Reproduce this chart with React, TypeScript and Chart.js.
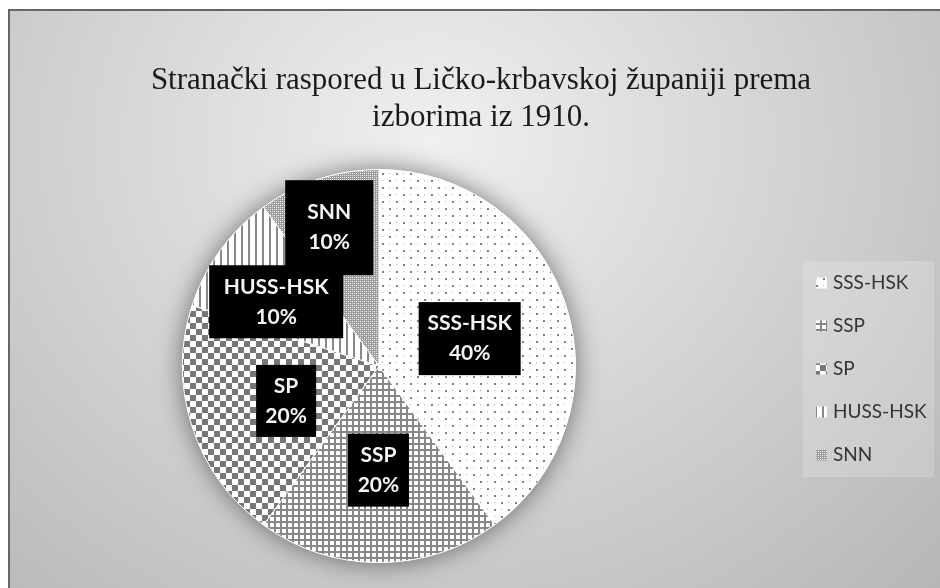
import React, { useEffect, useRef } from "react";
import { Chart, registerables } from "chart.js";

Chart.register(...registerables);

// ---- data ----
const titleLines = ["Stranački raspored u Ličko-krbavskoj županiji prema", "izborima iz 1910."];
const categories = ["SSS-HSK", "SSP", "SP", "HUSS-HSK", "SNN"];
const shares = [40, 20, 20, 10, 10];

// ---- style (label placement as fraction of radius + angle nudge, box sizes) ----
const labelRadius = [0.482, 0.53, 0.505, 0.617, 0.748];
const labelAngleNudge = [1.2, 0.3, -2.6, -4, -1.8];
const labelBoxW = [102, 61, 60, 134, 88];
const labelBoxH = [73, 73, 72, 73, 95];
const patternKinds = ["dots", "grid", "checker", "vlines", "dither"];

function makePattern(kind: string): CanvasPattern | string {
  const c = document.createElement("canvas");
  let size = 8;
  if (kind === "dots") size = 14;
  if (kind === "grid") size = 6;
  if (kind === "checker") size = 12;
  if (kind === "vlines") size = 7;
  if (kind === "dither") size = 4;
  c.width = size;
  c.height = size;
  const ctx = c.getContext("2d")!;
  ctx.fillStyle = "#ffffff";
  ctx.fillRect(0, 0, size, size);
  if (kind === "dots") {
    ctx.fillStyle = "#808080";
    ctx.fillRect(1, 1, 2, 2);
    ctx.fillRect(8, 8, 2, 2);
    ctx.fillStyle = "#b0b0b0";
    ctx.fillRect(8, 1, 1, 1);
    ctx.fillRect(1, 8, 1, 1);
  } else if (kind === "grid") {
    ctx.fillStyle = "#888888";
    ctx.fillRect(0, 0, size, 2);
    ctx.fillRect(0, 0, 2, size);
  } else if (kind === "checker") {
    ctx.fillStyle = "#777777";
    ctx.fillRect(0, 0, 6, 6);
    ctx.fillRect(6, 6, 6, 6);
  } else if (kind === "vlines") {
    ctx.fillStyle = "#888888";
    ctx.fillRect(0, 0, 2, size);
  } else if (kind === "dither") {
    ctx.fillStyle = "#9c9c9c";
    ctx.fillRect(0, 0, size, size);
    ctx.fillStyle = "#ffffff";
    ctx.fillRect(0, 0, 1, 1);
    ctx.fillRect(2, 2, 1, 1);
    ctx.fillStyle = "#d8d8d8";
    ctx.fillRect(2, 0, 1, 1);
    ctx.fillRect(0, 2, 1, 1);
  }
  const p = ctx.createPattern(c, "repeat");
  return p || "#cccccc";
}

const shadowPlugin = {
  id: "pieShadow",
  beforeDatasetsDraw(chart: any) {
    const arc = chart.getDatasetMeta(0).data[0];
    if (!arc) return;
    const { x, y, outerRadius } = arc.getProps(["x", "y", "outerRadius"], true);
    const ctx = chart.ctx;
    ctx.save();
    ctx.shadowColor = "rgba(0,0,0,0.5)";
    ctx.shadowBlur = 26;
    ctx.beginPath();
    ctx.arc(x, y, outerRadius, 0, Math.PI * 2);
    ctx.fillStyle = "#ffffff";
    ctx.fill();
    ctx.restore();
  },
};

const labelPlugin = {
  id: "boxLabels",
  afterDatasetsDraw(chart: any) {
    const ctx = chart.ctx;
    const data = chart.data.datasets[0].data as number[];
    const total = data.reduce((a, b) => a + b, 0);
    const spots = chart.getDatasetMeta(0).data.map((arc: any, i: number) => {
      const { x, y, startAngle, endAngle, outerRadius } = arc.getProps(
        ["x", "y", "startAngle", "endAngle", "outerRadius"],
        true
      );
      const mid = (startAngle + endAngle) / 2 + (labelAngleNudge[i] * Math.PI) / 180;
      return {
        cx: x + Math.cos(mid) * outerRadius * labelRadius[i],
        cy: y + Math.sin(mid) * outerRadius * labelRadius[i],
      };
    });
    ctx.save();
    ctx.fillStyle = "#000000";
    spots.forEach((s: any, i: number) => {
      ctx.fillRect(s.cx - labelBoxW[i] / 2, s.cy - labelBoxH[i] / 2, labelBoxW[i], labelBoxH[i]);
    });
    ctx.fillStyle = "#f4f4f4";
    ctx.font = "bold 21px Lato";
    ctx.textAlign = "center";
    ctx.textBaseline = "middle";
    spots.forEach((s: any, i: number) => {
      ctx.fillText(String(chart.data.labels[i]), s.cx, s.cy - 15);
      ctx.fillText(Math.round((data[i] / total) * 100) + "%", s.cx, s.cy + 15);
    });
    ctx.restore();
  },
};

const titlePlugin = {
  id: "serifTitle",
  afterDraw(chart: any) {
    const ctx = chart.ctx;
    ctx.save();
    ctx.fillStyle = "#1a1a1a";
    ctx.font = '31px "Liberation Serif"';
    ctx.textAlign = "center";
    ctx.textBaseline = "alphabetic";
    titleLines.forEach((line, i) => {
      ctx.fillText(line, chart.width / 2, 78 + i * 37);
    });
    ctx.restore();
  },
};

const legendPlugin = {
  id: "boxLegend",
  afterDraw(chart: any) {
    const ctx = chart.ctx;
    const ds = chart.data.datasets[0];
    ctx.save();
    ctx.fillStyle = "rgba(255,255,255,0.18)";
    ctx.fillRect(793, 250, 131, 216);
    chart.data.labels.forEach((lab: string, i: number) => {
      const y = 272 + i * 43;
      ctx.fillStyle = ds.backgroundColor[i];
      ctx.fillRect(806, y - 5.5, 11, 11);
      ctx.fillStyle = "#333333";
      ctx.font = "19px Lato";
      ctx.textAlign = "left";
      ctx.textBaseline = "middle";
      ctx.fillText(lab, 823, y);
    });
    ctx.restore();
  },
};

export default function App() {
  const ref = useRef<HTMLCanvasElement>(null);
  useEffect(() => {
    document.documentElement.style.overflow = "hidden";
    document.body.style.overflow = "hidden";
    const canvas = ref.current;
    if (!canvas) return;
    const patterns = patternKinds.map((k) => makePattern(k));
    const chart = new Chart(canvas, {
      type: "pie",
      data: {
        labels: categories,
        datasets: [
          {
            data: shares,
            backgroundColor: patterns as any,
            borderColor: "#ffffff",
            borderWidth: 1,
            hoverOffset: 0,
          },
        ],
      },
      options: {
        responsive: false,
        animation: false,
        events: [],
        layout: { padding: { left: 172, right: 376, top: 158, bottom: 46 } },
        plugins: {
          legend: { display: false },
          title: { display: false },
          tooltip: { enabled: false },
        },
      },
      plugins: [shadowPlugin, labelPlugin, titlePlugin, legendPlugin],
    });
    return () => chart.destroy();
  }, []);
  return (
    <div
      style={{
        position: "fixed",
        left: 8,
        top: 9,
        width: 942,
        height: 598,
        borderTop: "2px solid #666666",
        borderLeft: "2px solid #666666",
        background:
          "radial-gradient(ellipse farthest-corner at 45% 22%, #f0f0f0 0%, #d8d8d8 40%, #b4b4b4 100%)",
      }}
    >
      <canvas ref={ref} width={942} height={598} style={{ display: "block", width: 942, height: 598 }} />
    </div>
  );
}
